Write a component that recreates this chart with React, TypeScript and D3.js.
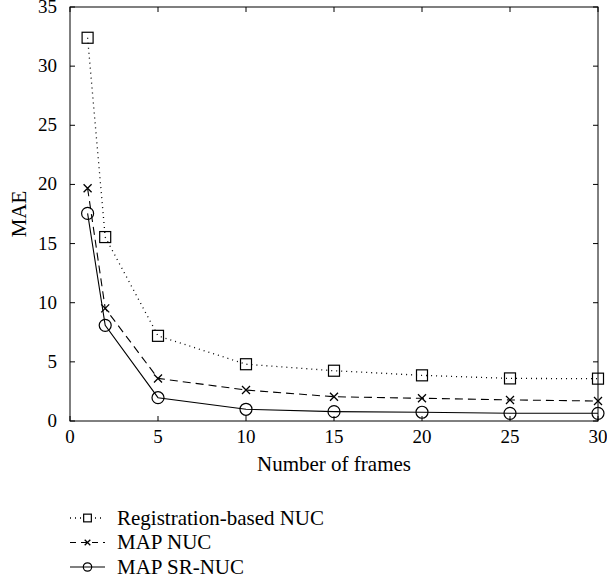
import React, { useRef, useEffect } from "react";
import * as d3 from "d3";

// frames on the x axis
const frames = [1, 2, 5, 10, 15, 20, 25, 30];

// MAE per method
const registrationNuc = [32.4, 15.55, 7.2, 4.8, 4.25, 3.86, 3.6, 3.58];
const mapNuc = [19.67, 9.52, 3.6, 2.62, 2.05, 1.92, 1.78, 1.69];
const mapSrNuc = [17.55, 8.09, 1.97, 0.99, 0.79, 0.74, 0.65, 0.65];

const xTicks = [0, 5, 10, 15, 20, 25, 30];
const yTicks = [0, 5, 10, 15, 20, 25, 30, 35];

const seriesNames = ["Registration-based NUC", "MAP NUC", "MAP SR-NUC"];

const App = () => {
  const container = useRef(null);

  const width = 607;
  const height = 588;
  const margin = { left: 70, right: 9, top: 7, bottom: 167 };
  const font = "Liberation Serif";
  const fontSize = 19;
  const titleSize = 21;

  useEffect(() => {
    const svg = d3.select(container.current);
    svg.selectAll("*").remove();

    const xScale = d3
      .scaleLinear()
      .domain([0, 30])
      .range([margin.left, width - margin.right]);
    const yScale = d3
      .scaleLinear()
      .domain([0, 35])
      .range([height - margin.bottom, margin.top]);

    const series = [
      { name: seriesNames[0], values: registrationNuc, dash: "1,4", marker: "square" },
      { name: seriesNames[1], values: mapNuc, dash: "8,5", marker: "cross" },
      { name: seriesNames[2], values: mapSrNuc, dash: null, marker: "circle" },
    ];

    const x0 = xScale(0), x1 = xScale(30);
    const y0 = yScale(0), y1 = yScale(35);
    const tickLen = 5;

    // axes box with inward ticks
    const axes = svg.append("g").attr("stroke", "#000").attr("stroke-width", 1);
    axes
      .append("rect")
      .attr("x", x0)
      .attr("y", y1)
      .attr("width", x1 - x0)
      .attr("height", y0 - y1)
      .attr("fill", "none");

    xTicks.forEach((t) => {
      axes.append("line").attr("x1", xScale(t)).attr("x2", xScale(t)).attr("y1", y0).attr("y2", y0 - tickLen);
      axes.append("line").attr("x1", xScale(t)).attr("x2", xScale(t)).attr("y1", y1).attr("y2", y1 + tickLen);
    });
    yTicks.forEach((t) => {
      axes.append("line").attr("x1", x0).attr("x2", x0 + tickLen).attr("y1", yScale(t)).attr("y2", yScale(t));
      axes.append("line").attr("x1", x1).attr("x2", x1 - tickLen).attr("y1", yScale(t)).attr("y2", yScale(t));
    });

    // tick labels
    svg
      .append("g")
      .selectAll("text")
      .data(xTicks)
      .enter()
      .append("text")
      .attr("x", (d) => xScale(d))
      .attr("y", y0 + 22)
      .attr("text-anchor", "middle")
      .attr("font-family", font)
      .attr("font-size", fontSize)
      .text((d) => d);

    svg
      .append("g")
      .selectAll("text")
      .data(yTicks)
      .enter()
      .append("text")
      .attr("x", x0 - 13)
      .attr("y", (d) => yScale(d) + 6)
      .attr("text-anchor", "end")
      .attr("font-family", font)
      .attr("font-size", fontSize)
      .text((d) => d);

    // axis titles
    svg
      .append("text")
      .attr("x", (x0 + x1) / 2)
      .attr("y", y0 + 50)
      .attr("text-anchor", "middle")
      .attr("font-family", font)
      .attr("font-size", titleSize)
      .text("Number of frames");

    svg
      .append("text")
      .attr("transform", `translate(26, ${(y0 + y1) / 2}) rotate(-90)`)
      .attr("text-anchor", "middle")
      .attr("font-family", font)
      .attr("font-size", titleSize)
      .text("MAE");

    const line = d3
      .line<number>()
      .x((d, i) => xScale(frames[i]))
      .y((d) => yScale(d));

    const drawMarker = (g, kind, cx, cy, k) => {
      if (kind === "square") {
        const h = 5.5 * k;
        g.append("rect")
          .attr("x", cx - h)
          .attr("y", cy - h)
          .attr("width", 2 * h)
          .attr("height", 2 * h)
          .attr("fill", "none")
          .attr("stroke", "#000")
          .attr("stroke-width", 1.2);
      } else if (kind === "cross") {
        const h = 4 * k;
        g.append("path")
          .attr("d", `M${cx - h},${cy - h}L${cx + h},${cy + h}M${cx - h},${cy + h}L${cx + h},${cy - h}`)
          .attr("stroke", "#000")
          .attr("stroke-width", 1.3);
      } else {
        g.append("circle")
          .attr("cx", cx)
          .attr("cy", cy)
          .attr("r", 6 * k)
          .attr("fill", "none")
          .attr("stroke", "#000")
          .attr("stroke-width", 1.2);
      }
    };

    series.forEach((s) => {
      const g = svg.append("g");
      g.append("path")
        .attr("d", line(s.values))
        .attr("fill", "none")
        .attr("stroke", "#000")
        .attr("stroke-width", s.dash === "1,4" ? 1.3 : 1.1)
        .attr("stroke-dasharray", s.dash);
      s.values.forEach((v, i) => drawMarker(g, s.marker, xScale(frames[i]), yScale(v), 1));
    });

    // legend
    const legend = svg.append("g");
    series.forEach((s, i) => {
      const ly = 518 + i * 24.5;
      legend
        .append("line")
        .attr("x1", 70)
        .attr("x2", 105)
        .attr("y1", ly)
        .attr("y2", ly)
        .attr("stroke", "#000")
        .attr("stroke-width", s.dash === "1,4" ? 1.3 : 1.1)
        .attr("stroke-dasharray", s.dash === "1,4" ? "1,4" : s.dash ? "6,5" : null);
      if (s.marker === "square") {
        legend
          .append("rect")
          .attr("x", 81)
          .attr("y", ly - 5)
          .attr("width", 12)
          .attr("height", 10)
          .attr("fill", "#fff");
      }
      drawMarker(legend, s.marker, 87.5, ly, 0.7);
      legend
        .append("text")
        .attr("x", 117)
        .attr("y", ly + 6.5)
        .attr("font-family", font)
        .attr("font-size", titleSize)
        .text(s.name);
    });
  }, []);

  return (
    <svg
      ref={container}
      width={width}
      height={height}
      style={{ position: "absolute", left: 0, top: 0, background: "#fff" }}
    />
  );
};

export default App;
